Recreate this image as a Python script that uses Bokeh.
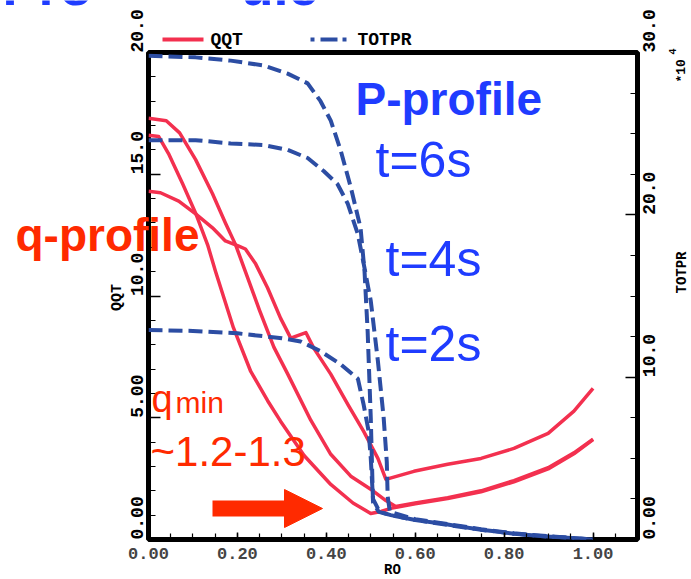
import math

from bokeh.embed import file_html
from bokeh.models import (Arrow, CustomJSTickFormatter, FixedTicker, GridBox,
                          Label, LinearAxis, NormalHead, NumeralTickFormatter,
                          Range1d)
from bokeh.plotting import figure
from bokeh.resources import INLINE

# ---- data -------------------------------------------------------------
# safety factor profiles QQT(RO)
ro_qa = [0, 0.04, 0.07, 0.106, 0.144, 0.173, 0.196, 0.218, 0.25, 0.282, 0.313,
         0.365, 0.41, 0.455, 0.505, 0.534, 0.556, 0.6, 0.673, 0.748, 0.822,
         0.899, 0.957, 1.0]
qqt_a = [17.3, 17.2, 16.7, 15.6, 14.2, 13.0, 12.1, 11.0, 9.4, 7.9, 6.8,
         4.9, 3.5, 2.6, 2.0, 1.6, 1.36, 1.5, 1.72, 2.0, 2.42,
         2.95, 3.56, 4.12]

ro_qb = [0, 0.023, 0.045, 0.077, 0.106, 0.133, 0.151, 0.191, 0.23, 0.268,
         0.297, 0.35, 0.41, 0.46, 0.5, 0.523, 0.545, 0.6, 0.673, 0.748,
         0.822, 0.899, 0.957, 1.0]
qqt_b = [16.6, 16.55, 15.85, 14.6, 13.4, 12.1, 11.0, 8.7, 6.9, 5.7,
         4.86, 3.45, 2.26, 1.5, 1.07, 1.15, 1.28, 1.47, 1.68, 1.96,
         2.37, 2.9, 3.52, 4.1]

ro_qc = [0, 0.027, 0.068, 0.106, 0.144, 0.173, 0.203, 0.218, 0.241, 0.268,
         0.297, 0.32, 0.354, 0.372, 0.41, 0.448, 0.484, 0.516, 0.534, 0.597,
         0.673, 0.748, 0.822, 0.899, 0.957, 1.0]
qqt_c = [14.3, 14.24, 13.9, 13.37, 12.8, 12.26, 12.05, 11.93, 11.32, 10.33,
         9.09, 8.27, 8.5, 7.85, 6.79, 5.56, 4.44, 3.33, 2.47, 2.8,
         3.09, 3.33, 3.74, 4.36, 5.27, 6.21]

# total pressure TOTPR(RO), units of 1e4
ro_p6 = [0, 0.106, 0.185, 0.259, 0.313, 0.358, 0.387, 0.41, 0.432, 0.455,
         0.477, 0.486, 0.493, 0.5, 0.505, 0.518, 0.545, 0.6, 0.673, 0.748,
         0.822, 0.899, 1.0]
totpr_6s = [29.8, 29.7, 29.5, 29.2, 28.7, 28.1, 27.0, 25.8, 24.0, 21.7,
            19.2, 16.5, 12.8, 7.5, 2.3, 1.7, 1.5, 1.2, 0.9, 0.6,
            0.36, 0.18, 0.0]

ro_p4 = [0, 0.106, 0.185, 0.259, 0.313, 0.358, 0.394, 0.425, 0.448, 0.471,
         0.484, 0.5, 0.516, 0.529, 0.536, 0.538, 0.543, 0.6, 0.673, 0.748,
         0.822, 0.899, 1.0]
totpr_4s = [24.6, 24.6, 24.4, 24.3, 24.0, 23.5, 22.7, 21.9, 20.7, 18.8,
            17.0, 14.7, 11.0, 7.5, 4.8, 2.65, 1.7, 1.25, 0.95, 0.63,
            0.38, 0.2, 0.0]

ro_p2 = [0, 0.1, 0.2, 0.3, 0.342, 0.387, 0.432, 0.471, 0.484, 0.495, 0.5,
         0.505, 0.52, 0.545, 0.6, 0.673, 0.748, 0.822, 0.899, 1.0]
totpr_2s = [12.9, 12.85, 12.7, 12.4, 12.2, 11.6, 10.8, 9.9, 8.3, 6.7, 5.0,
            2.5, 1.7, 1.5, 1.2, 0.92, 0.6, 0.36, 0.18, 0.0]

x_ticks = [0.0, 0.2, 0.4, 0.6, 0.8, 1.0]
q_ticks = [0, 5, 10, 15, 20]
q_tick_labels = ["0.00", "5.00", "10.0", "15.0", "20.0"]
p_ticks = [0, 10, 20, 30]
p_tick_labels = ["0.00", "10.0", "20.0", "30.0"]

# ---- layout constants ---------------------------------------------------
W, H = 691, 579
LEFT, RIGHT, TOP, BOTTOM = 148, 637, 52, 539
X_MAX, Q_MAX, P_MAX = 1.1, 20.0, 30.0
SQ = (BOTTOM - TOP) / Q_MAX
SP = (BOTTOM - TOP) / P_MAX
BASE_SHIFT = 0.38  # label anchor sits this many em above the baseline

RED = "#f3304f"
BLUE = "#2c4da3"
TXT_BLUE = "#1f3cff"
ORANGE = "#ff2a00"
MONO = "Liberation Mono"
SANS = "Liberation Sans"

# ---- main plot ------------------------------------------------------------
p = figure(width=W, height=H, output_backend="svg", toolbar_location=None,
           x_range=Range1d(0, X_MAX), y_range=Range1d(0, Q_MAX),
           min_border_left=LEFT, min_border_right=W - RIGHT,
           min_border_top=TOP, min_border_bottom=H - BOTTOM,
           frame_align=False)
p.extra_y_ranges = {"p": Range1d(0, P_MAX)}
p.grid.visible = False
p.background_fill_color = "white"
p.border_fill_color = "white"
p.outline_line_color = "black"
p.outline_line_width = 5

no_labels = CustomJSTickFormatter(code="return ''")

# bottom axis
xa = p.xaxis[0]
xa.ticker = FixedTicker(ticks=x_ticks,
                        minor_ticks=[i * 0.05 for i in range(23)])
xa.formatter = NumeralTickFormatter(format="0.00")
xa.axis_line_color = None
xa.major_tick_in, xa.major_tick_out = 7, 0
xa.minor_tick_in, xa.minor_tick_out = 6, 0
xa.major_tick_line_width = 1.5
xa.minor_tick_line_width = 1.2
xa.major_label_text_font = MONO
xa.major_label_text_font_style = "bold"
xa.major_label_text_font_size = "17px"
xa.major_label_standoff = 8

# left axis (QQT): inward ticks; its labels start at the tick, set below
ya = p.yaxis[0]
ya.ticker = FixedTicker(ticks=q_ticks, minor_ticks=list(range(21)))
ya.formatter = no_labels
ya.axis_line_color = None
ya.major_tick_in, ya.major_tick_out = 12, 0
ya.minor_tick_in, ya.minor_tick_out = 7, 0
ya.major_tick_line_width = 1.5
ya.minor_tick_line_width = 1.2

# right axis (TOTPR)
pa = LinearAxis(y_range_name="p", formatter=no_labels,
                ticker=FixedTicker(ticks=p_ticks,
                                   minor_ticks=[i * 2.5 for i in range(13)]))
pa.axis_line_color = None
pa.major_tick_in, pa.major_tick_out = 12, 0
pa.minor_tick_in, pa.minor_tick_out = 7, 0
pa.major_tick_line_width = 1.5
pa.minor_tick_line_width = 1.2
p.add_layout(pa, "right")

# ---- curves ---------------------------------------------------------------
for xs, ys in ((ro_qa, qqt_a), (ro_qb, qqt_b), (ro_qc, qqt_c)):
    p.line(xs, ys, line_color=RED, line_width=3.5, line_join="round")

for xs, ys in ((ro_p6, totpr_6s), (ro_p4, totpr_4s), (ro_p2, totpr_2s)):
    p.line(xs, ys, y_range_name="p", line_color=BLUE, line_width=4,
           line_dash="14 6")

# ---- text layer in page pixels laid over the whole plot -------------------
ov = figure(width=W, height=H, output_backend="svg", toolbar_location=None,
            x_range=Range1d(0, W), y_range=Range1d(0, H),
            x_axis_type=None, y_axis_type=None, min_border=0,
            outline_line_color=None, background_fill_color=None,
            border_fill_color=None, frame_align=False)
ov.grid.visible = False

VERT = math.pi / 2


def note(px, py, text, size, color="black", font=SANS, style="normal",
         align="left", baseline="alphabetic", angle=0.0):
    """Text at page pixel (px, py); for 'alphabetic' (px, py) is on the baseline."""
    if baseline == "alphabetic":
        if angle:
            px -= BASE_SHIFT * size
        else:
            py -= BASE_SHIFT * size
    ov.add_layout(Label(x=px, y=H - py, text=text, angle=angle,
                        text_align=align, text_baseline=baseline,
                        text_font=font, text_font_style=style,
                        text_font_size=f"{size}px", text_color=color))


# tick labels of the two vertical axes, each starting at its tick
for v, t in zip(q_ticks, q_tick_labels):
    note(143, BOTTOM - v * SQ, t, 18, font=MONO, style="bold", angle=VERT)
for v, t in zip(p_ticks, p_tick_labels):
    note(655, BOTTOM - v * SP, t, 18, font=MONO, style="bold", angle=VERT)

# axis titles and scale factor
note(117, 297, "QQT", 15, font=MONO, style="bold", align="center",
     baseline="middle", angle=VERT)
note(681, 272, "TOTPR", 14, font=MONO, style="bold", align="center",
     baseline="middle", angle=VERT)
note(392, 569, "RO", 14, font=MONO, style="bold", align="center",
     baseline="middle")
note(681, 82, "*10", 13, font=MONO, style="bold", baseline="middle",
     angle=VERT)
note(672, 54, "4", 10, font=MONO, style="bold", baseline="middle",
     angle=VERT)

# legend above the frame
ov.line([162, 203], [H - 39, H - 39], line_color=RED, line_width=4)
ov.line([310, 352], [H - 39, H - 39], line_color=BLUE, line_width=4,
        line_dash="4 6 17 5")
note(210, 39, "QQT", 18, font=MONO, style="bold", baseline="middle")
note(357, 39, "TOTPR", 18, font=MONO, style="bold", baseline="middle")

# annotations
note(355, 116, "P-profile", 46, TXT_BLUE, style="bold")
note(375, 178, "t=6s", 50, TXT_BLUE)
note(385, 277, "t=4s", 50, TXT_BLUE)
note(385, 362, "t=2s", 50, TXT_BLUE)
note(15, 252, "q-profile", 46, ORANGE, style="bold")
note(151, 413, "q", 38, ORANGE)
note(175, 413, "min", 30, ORANGE)
note(150, 467, "~1.2-1.3", 42, ORANGE)
note(2, 6, "Pro", 54, TXT_BLUE, style="bold")
note(240, 6, "ule", 54, TXT_BLUE, style="bold")

ov.add_layout(Arrow(x_start=212, y_start=H - 508, x_end=322, y_end=H - 508,
                    line_color=ORANGE, line_width=16,
                    end=NormalHead(size=38, fill_color=ORANGE,
                                   line_color=ORANGE, line_width=1)))

page = GridBox(children=[(p, 0, 0), (ov, 0, 0)])
open("out.html", "w").write(file_html(page, INLINE))
